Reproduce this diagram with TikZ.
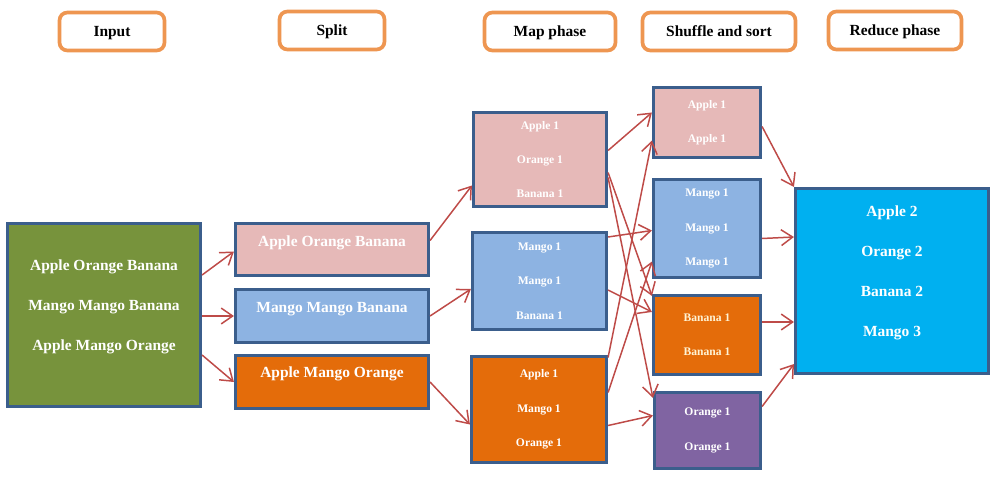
\documentclass[tikz,border=0pt]{standalone}
\usepackage{fontspec}
\setmainfont{Liberation Serif}
\usepackage{tikz}
\usetikzlibrary{arrows.meta}
\usetikzlibrary{calc}
\definecolor{boxline}{HTML}{3B5E8C}
\definecolor{hdrline}{HTML}{EE9651}
\definecolor{arrowred}{HTML}{BE4B48}
\definecolor{inputgreen}{HTML}{77933C}
\definecolor{pinkbox}{HTML}{E6B9B8}
\definecolor{bluebox}{HTML}{8DB3E2}
\definecolor{orangebox}{HTML}{E46C0A}
\definecolor{purplebox}{HTML}{8064A2}
\definecolor{cyanbox}{HTML}{00B0F0}
\definecolor{cream}{HTML}{FFF3D4}

\begin{document}
\begin{tikzpicture}[x=0.02cm,y=-0.02cm,
		hdr/.style={draw=hdrline,line width=2.1pt,rounded corners=4.5pt,fill=white,minimum height=0.76cm,text height=6pt,text depth=0.6pt,font=\fontsize{8.8pt}{10pt}\selectfont\bfseries},
		box/.style={draw=boxline,line width=1.8pt,align=center,text=white},
		big/.style={font=\fontsize{8.8pt}{22.7pt}\selectfont\bfseries,align=center,text=white},
		small/.style={font=\fontsize{6.6pt}{19.5pt}\selectfont\bfseries},
		link/.style={draw=arrowred,line width=0.85pt,-{Straight Barb[length=6.5pt,width=9pt]}}]
		\useasboundingbox (0,0) rectangle (1000,483);
		% phase titles
		\path (112,31.5) node(hin)[hdr,minimum width=2.10cm]{Input}
		(332,30.5) node(hsp)[hdr,minimum width=2.10cm]{Split}
		(550,31.5) node(hmap)[hdr,minimum width=2.62cm]{Map phase}
		(719,31.5) node(hsh)[hdr,minimum width=3.06cm]{Shuffle and sort}
		(895,30.5) node(hred)[hdr,minimum width=2.66cm]{Reduce phase};
		% input and split
		\path (104,315) node(in)[box,fill=inputgreen,minimum width=3.86cm,minimum height=3.66cm]{}
		(332,249.5) node(sp1)[box,fill=pinkbox,minimum width=3.86cm,minimum height=1.04cm]{}
		(332,316) node(sp2)[box,fill=bluebox,minimum width=3.86cm,minimum height=1.06cm]{}
		(332,382) node(sp3)[box,fill=orangebox,minimum width=3.86cm,minimum height=1.06cm]{};
		\node(in-t)[big] at ($(in.center)+(0,-8)$) {Apple Orange Banana\\Mango Mango Banana\\Apple Mango Orange};
		\node(sp1-t)[big] at ($(sp1.center)+(0,-6.5)$) {Apple Orange Banana};
		\node(sp2-t)[big] at ($(sp2.center)+(0,-7)$) {Mango Mango Banana};
		\node(sp3-t)[big] at ($(sp3.center)+(0,-8)$) {Apple Mango Orange};
		% map
		\path (540,159.5) node(m1)[box,small,fill=pinkbox,minimum width=2.66cm,minimum height=1.88cm]{Apple 1\\Orange 1\\Banana 1}
		(539.5,281) node(m2)[box,small,fill=bluebox,minimum width=2.68cm,minimum height=1.94cm]{Mango 1\\Mango 1\\Banana 1}
		(539,409.5) node(m3)[box,small,fill=orangebox,minimum width=2.70cm,minimum height=2.12cm]{Apple 1\\Mango 1\\Orange 1};
		% shuffle and sort
		\path (707,122.5) node(s1)[box,small,fill=pinkbox,minimum width=2.14cm,minimum height=1.40cm]{Apple 1\\Apple 1}
		(707,228.5) node(s2)[box,small,fill=bluebox,minimum width=2.14cm,minimum height=1.96cm]{Mango 1\\Mango 1\\Mango 1}
		(707,335) node(s3)[box,small,text=cream,fill=orangebox,minimum width=2.14cm,minimum height=1.58cm]{Banana 1\\Banana 1}
		(707.5,430.5) node(s4)[box,small,fill=purplebox,minimum width=2.12cm,minimum height=1.52cm]{Orange 1\\Orange 1};
		% reduce
		\path (892,281) node(red)[box,fill=cyanbox,minimum width=3.86cm,minimum height=3.70cm]{};
		\node(red-t)[big] at ($(red.center)+(0,-8)$) {Apple 2\\Orange 2\\Banana 2\\Mango 3};
		% arrows
		\draw [link] ($(in.east)+(0,-40)$) to ($(sp1.west)+(0,2)$);
		\draw [link] (in.east |- sp2.west) to (sp2.west);
		\draw [link] ($(in.east)+(0,40)$) to (sp3.west);
		\draw [link] ($(sp1.east)+(0,-9)$) to ($(m1.west)+(0,26)$);
		\draw [link] (sp2.east) to ($(m2.west)+(0,8)$);
		\draw [link] (sp3.east) to ($(m3.west)+(0,15)$);
		\draw [link] ($(m1.east)+(0,-9)$) to ($(s1.west)+(0,-10)$);
		\draw [link] ($(m1.east)+(0,13)$) to ($(s3.north west)+(0,2)$);
		\draw [link] ($(m1.east)+(0,18)$) to ($(s4.north west)+(0,7)$);
		\draw [link] ($(m2.east)+(0,-44)$) to ($(s2.west)+(0,2)$);
		\draw [link] ($(m2.east)+(0,9)$) to ($(s3.west)+(0,-23)$);
		\draw [link] ($(m3.east)+(0,-52)$) to ($(s1.west)+(0,18)$);
		\draw [link] ($(m3.east)+(0,-17)$) to ($(s2.west)+(0,33)$);
		\draw [link] ($(m3.east)+(0,16)$) to ($(s4.west)+(0,-15)$);
		\draw [link] ($(s1.east)+(0,4)$) to (red.north west);
		\draw [link] ($(s2.east)+(0,10)$) to ($(red.west)+(0,-44)$);
		\draw [link] ($(s3.east)+(0,-13)$) to ($(red.west)+(0,41)$);
		\draw [link] ($(s4.east)+(0,-24)$) to ($(red.south west)+(0,-11)$);
	\end{tikzpicture}
\end{document}
